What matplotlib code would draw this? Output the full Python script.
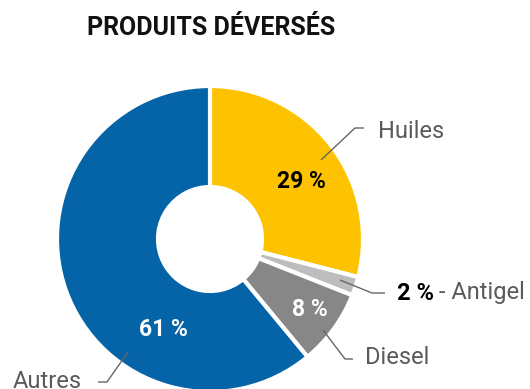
"""
Graphique en anneau : répartition des produits déversés.
"""

import matplotlib
matplotlib.use("Agg")
import matplotlib.pyplot as plt

# Données
categories = ["Huiles", "Antigel", "Diesel", "Autres"]
parts = [29, 2, 8, 61]
colors = ["#FDC300", "#BDBDBD", "#878787", "#0563A7"]
pct_text_colors = ["#000000", "#000000", "#FFFFFF", "#FFFFFF"]

# Mise en page (pixels, origine en haut à gauche)
W, H = 530, 389
CENTER = (210, 239)
R_OUT, R_IN = 153, 52
GRAY = "#5A5A5A"

plt.rcParams["font.family"] = ["Roboto", "DejaVu Sans"]

fig = plt.figure(figsize=(W / 100, H / 100), dpi=100)
ax = fig.add_axes([0, 0, 1, 1])


def py(y):
    """Convertit une ordonnée pixel (haut -> bas) en ordonnée de données."""
    return H - y


ax.pie(
    parts,
    colors=colors,
    startangle=90,
    counterclock=False,
    center=(CENTER[0], py(CENTER[1])),
    radius=R_OUT,
    wedgeprops=dict(width=R_OUT - R_IN, edgecolor="white", linewidth=3),
    frame=True,
)
ax.set_xlim(0, W)
ax.set_ylim(0, H)
ax.set_aspect("equal")
ax.axis("off")

ax.text(211, py(28), "PRODUITS DÉVERSÉS", ha="center", va="center",
        fontsize=18, fontweight="bold", color="#111111")

# Pourcentages à l'intérieur des parts
inside = {"Huiles": (301, 181), "Diesel": (310, 310), "Autres": (163, 329)}
for name, value, tcolor in zip(categories, parts, pct_text_colors):
    if name in inside:
        x, y = inside[name]
        ax.text(x, py(y), f"{value} %", ha="center", va="center",
                fontsize=16.5, fontweight="bold", color=tcolor)

# Lignes de rappel : point d'ancrage, coude, fin du trait
leaders = {
    "Huiles": [(321, 160), (355, 128), (364, 128)],
    "Antigel": [(340, 280), (372, 293), (385, 293)],
    "Diesel": [(323, 330), (345, 359), (353, 359)],
    "Autres": [(128, 352), (107, 382), (98, 382)],
}
for name, pts in leaders.items():
    ax.plot([p[0] for p in pts], [py(p[1]) for p in pts],
            color="#666666", linewidth=1, solid_capstyle="butt")

ax.text(378, py(131), "Huiles", ha="left", va="center", fontsize=17, color=GRAY)
ax.text(365, py(358), "Diesel", ha="left", va="center", fontsize=17, color=GRAY)
ax.text(82, py(381), "Autres", ha="right", va="center", fontsize=17, color=GRAY)
ax.text(397, py(293), f"{parts[1]} %", ha="left", va="center",
        fontsize=17, fontweight="bold", color="#000000")
ax.text(439, py(293), "- Antigel", ha="left", va="center", fontsize=17, color=GRAY)

fig.savefig("out.png", dpi=100)
plt.close(fig)
